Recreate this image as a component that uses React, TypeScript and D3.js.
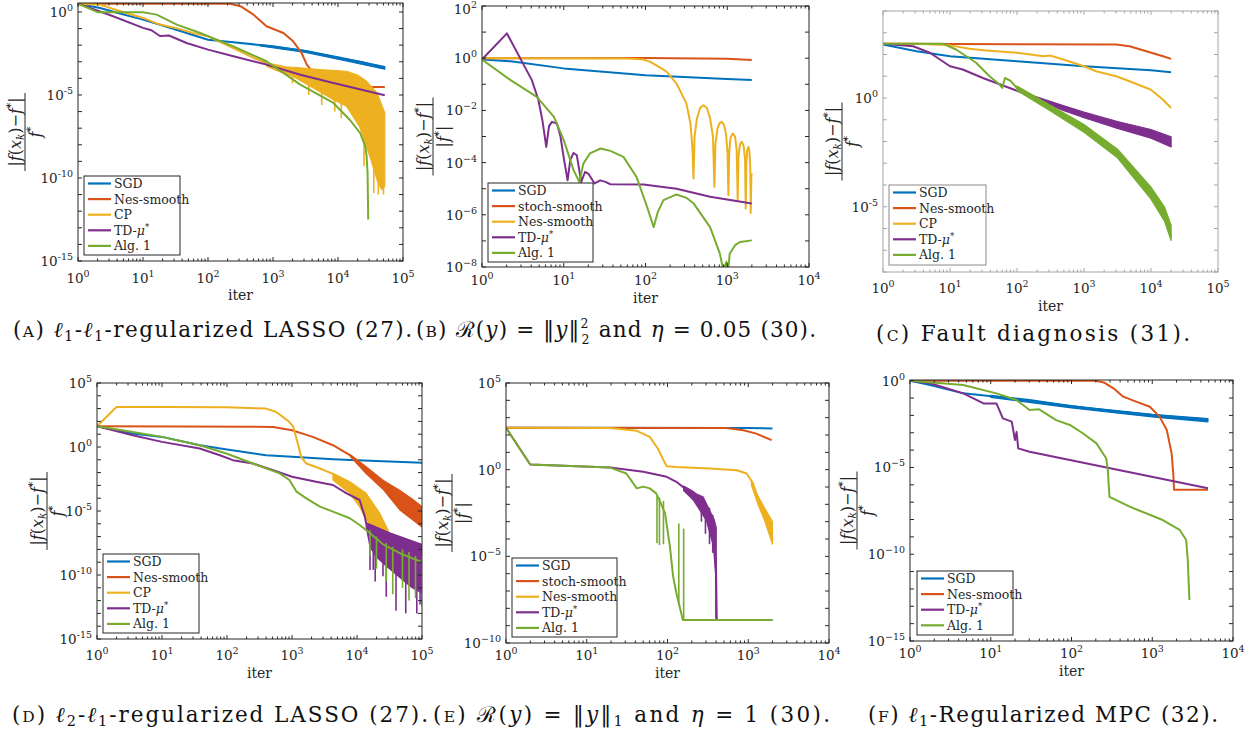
import React from 'react';
import * as d3 from 'd3';

// All data points are [log10(iter), log10(relative error)].
type P = [number, number];
type S = [number, number, number]; // spike: [log10 iter, log10 top, log10 bottom]

const BLUE = '#0072BD', RED = '#D95319', YELLOW = '#EDB120', PURPLE = '#7E2F8E', GREEN = '#77AC30';
const SERIF = "DejaVu Serif, Liberation Serif, serif";

// ---------------- Panel A ----------------
const aSGD: P[] = [[0,0.5],[0.34,0.24],[0.6,-0.05],[1,-0.46],[1.5,-1.06],[2,-1.67],[2.39,-1.83],[3,-2.07],[3.52,-2.37],[4,-2.77],[4.4,-3.05],[4.72,-3.37]];
const aSGDUp: P[] = [[2.8,-1.97],[3.5,-2.32],[4,-2.71],[4.72,-3.29]];
const aSGDLo: P[] = [[2.8,-2.05],[3.5,-2.43],[4,-2.85],[4.72,-3.45]];
const aNes: P[] = [[0,0.5],[2.34,0.5],[2.5,0.35],[2.7,-0.16],[2.9,-0.86],[3.16,-1.27],[3.31,-1.77],[3.44,-2.47],[3.52,-3.17],[3.6,-3.57],[3.7,-4.1],[3.8,-4.45],[3.9,-4.52],[4.72,-4.52]];
const aCP: P[] = [[0,0.5],[0.34,0.44],[0.6,0.1],[1,-0.36],[1.26,-0.76],[1.5,-0.96],[1.76,-1.26],[2,-1.47],[2.39,-2.17],[2.7,-2.77],[2.9,-3.07]];
const aCPUp: P[] = [[2.9,-3.07],[3.2,-3.3],[3.42,-3.37],[3.72,-3.47],[4.13,-3.57],[4.3,-3.8],[4.44,-4.18],[4.6,-4.88],[4.72,-6.08]];
const aCPLo: P[] = [[2.9,-3.27],[3.1,-3.6],[3.31,-3.88],[3.62,-4.58],[3.93,-5.28],[4.13,-5.68],[4.33,-6.89],[4.49,-8.69],[4.6,-10.1],[4.67,-10.7],[4.72,-10.5]];
const aCPSpikes: S[] = [[3.3,-3.6,-4.3],[3.55,-4.2,-5.0],[3.75,-4.6,-5.6],[3.95,-5.1,-6.0],[4.05,-5.3,-6.4],[4.4,-7.5,-9.3],[4.55,-9,-10.9],[4.62,-9.5,-11.0],[4.7,-10,-11.0]];
const aTD: P[] = [[0,0.5],[0.5,-0.2],[1,-0.96],[1.13,-1.1],[1.26,-1.45],[1.4,-1.42],[1.67,-1.87],[2,-2.27],[2.39,-2.67],[2.9,-3.17],[3.42,-3.78],[3.93,-4.28],[4.72,-5.02]];
const aAlg: P[] = [[0,0.5],[0.31,-0.02],[1,-0.02],[1.21,-0.16],[1.52,-0.76],[1.88,-1.27],[2.39,-2.07],[2.9,-2.97],[3.42,-4.38],[3.93,-5.48],[4.18,-6.49],[4.34,-7.29],[4.42,-8.09],[4.44,-8.69],[4.455,-9.7],[4.465,-12.5]];

// ---------------- Panel B ----------------
const bSGD: P[] = [[0,-0.05],[0.35,-0.12],[1,-0.39],[2,-0.65],[3,-0.8],[3.3,-0.84]];
const bStoch: P[] = [[0,0],[2,0.01],[3,-0.02],[3.3,-0.07]];
const bNes: P[] = [[0,0],[1.8,-0.01],[1.97,-0.05],[2.06,-0.14],[2.2,-0.4],[2.26,-0.52],[2.38,-0.97],[2.5,-1.73],[2.55,-2.5],[2.575,-3.5],[2.587,-4.61],[2.6,-3.0],[2.63,-2.3],[2.67,-1.9],[2.709,-1.8],[2.75,-1.9],[2.79,-2.3],[2.825,-3.0],[2.843,-4.93],[2.855,-3.3],[2.88,-2.7],[2.905,-2.5],[2.933,-2.44],[2.96,-2.55],[2.985,-2.9],[3.003,-3.6],[3.014,-5.25],[3.024,-3.6],[3.04,-3.05],[3.067,-2.88],[3.095,-3.0],[3.115,-3.5],[3.128,-5.44],[3.137,-3.8],[3.155,-3.3],[3.177,-3.2],[3.2,-3.35],[3.218,-3.9],[3.226,-5.76],[3.234,-4.0],[3.245,-3.5],[3.259,-3.4],[3.272,-3.6],[3.282,-4.2],[3.287,-5.93],[3.295,-4.5],[3.3,-4.4]];
const bTD: P[] = [[0,-0.05],[0.305,0.95],[0.61,-0.84],[0.69,-1.6],[0.74,-2.4],[0.786,-3.4],[0.82,-2.6],[0.855,-2.44],[0.917,-2.5],[0.96,-3.0],[0.998,-3.78],[1.047,-4.68],[1.08,-3.9],[1.12,-3.63],[1.16,-3.72],[1.214,-4.74],[1.26,-4.36],[1.3,-4.42],[1.377,-4.8],[1.446,-4.68],[1.51,-4.74],[1.57,-4.83],[1.976,-4.84],[2.38,-5.0],[2.79,-5.31],[3.3,-5.57]];
const bAlg: P[] = [[0,-0.05],[0.35,-0.84],[0.67,-1.48],[0.88,-2.25],[1.0,-3.14],[1.12,-4.29],[1.19,-4.74],[1.24,-4.04],[1.32,-3.65],[1.45,-3.46],[1.57,-3.55],[1.73,-3.78],[1.89,-4.55],[2.02,-5.7],[2.1,-6.47],[2.15,-5.9],[2.22,-5.44],[2.38,-5.22],[2.5,-5.35],[2.59,-5.57],[2.79,-6.47],[2.91,-7.49],[2.95,-8.1],[2.99,-7.8],[3.01,-8.2],[3.03,-7.49],[3.1,-7.15],[3.16,-7.04],[3.3,-6.98]];

// ---------------- Panel C ----------------
const cSGD: P[] = [[0,2.46],[0.5,2.15],[1,1.92],[2,1.69],[3,1.46],[4,1.28],[4.3,1.18]];
const cNes: P[] = [[0,2.49],[3.48,2.46],[3.68,2.38],[3.93,2.15],[4.18,1.92],[4.3,1.8]];
const cCP: P[] = [[0,2.49],[0.5,2.49],[1,2.42],[1.29,2.26],[1.5,2.2],[1.69,2.15],[2,2.08],[2.2,2.0],[2.39,1.92],[2.5,1.95],[2.69,1.77],[3,1.46],[3.18,1.23],[3.48,1.0],[3.68,0.77],[4,0.38],[4.18,-0.08],[4.3,-0.46]];
const cTD: P[] = [[0,2.49],[0.45,2.38],[0.7,2.08],[1,1.46],[1.19,1.31],[1.49,0.92],[1.69,0.69],[1.89,0.46],[2.09,0.23],[2.39,-0.15],[2.69,-0.46],[3,-0.77],[3.48,-1.23],[4,-1.62],[4.3,-2.0]];
const cTDUp: P[] = [[2.2,0.15],[2.7,-0.36],[3.0,-0.65],[3.5,-1.08],[4.0,-1.45],[4.3,-1.78]];
const cTDLo: P[] = [[2.2,0.05],[2.7,-0.58],[3.0,-0.9],[3.5,-1.4],[4.0,-1.85],[4.3,-2.25]];
const cAlg: P[] = [[0,2.49],[0.9,2.49],[1.09,2.23],[1.39,1.62],[1.59,1.0],[1.74,0.62],[1.78,0.46],[1.82,0.92],[1.9,0.8],[2,0.46],[2.19,0.08],[2.49,-0.46],[3,-1.38],[3.48,-2.54],[4,-4.38],[4.18,-5.31],[4.3,-6.38]];
const cAlgUp: P[] = [[2.0,0.55],[2.5,-0.33],[3,-1.22],[3.5,-2.35],[4,-4.1],[4.2,-5.0],[4.3,-5.85]];
const cAlgLo: P[] = [[2.0,0.35],[2.5,-0.6],[3,-1.58],[3.5,-2.75],[4,-4.65],[4.2,-5.65],[4.3,-6.55]];

// ---------------- Panel D ----------------
const dSGD: P[] = [[0,1.62],[0.55,1.05],[1,0.79],[1.58,0.14],[2,-0.19],[2.6,-0.64],[3,-0.77],[3.63,-0.95],[4,-1.03],[5,-1.23]];
const dNes: P[] = [[0,1.62],[2.71,1.57],[3,1.31],[3.32,0.79],[3.63,0.14],[3.89,-0.64],[4.14,-1.8],[4.4,-2.95],[4.66,-4.1],[4.86,-4.9],[5,-5.6]];
const dNesUp: P[] = [[3.9,-0.6],[4.14,-1.55],[4.4,-2.6],[4.66,-3.4],[4.86,-4.1],[5,-4.66]];
const dNesLo: P[] = [[3.9,-0.75],[4.14,-2.07],[4.4,-3.3],[4.66,-4.92],[4.86,-5.7],[5,-6.25]];
const dCP: P[] = [[0,1.62],[0.3,3.13],[1,3.13],[2,3.1],[2.6,3.0],[2.75,2.75],[2.86,2.35],[2.95,2.0],[3.02,1.57],[3.09,0.27],[3.14,-0.77],[3.22,-1.29],[3.43,-1.68],[3.63,-2.1]];
const dCPUp: P[] = [[3.63,-2.06],[3.89,-2.71],[4.14,-3.62],[4.35,-5.18],[4.5,-6.74]];
const dCPLo: P[] = [[3.63,-2.58],[3.89,-3.62],[4.04,-4.66],[4.14,-5.7],[4.35,-6.74],[4.5,-6.74]];
const dCPSpikes: S[] = [[4.3,-6.5,-8.2],[4.35,-6.7,-8.8]];
const dTD: P[] = [[0,1.62],[0.55,0.92],[1,0.4],[1.58,-0.12],[1.89,-0.64],[2.09,-1.03],[2.4,-1.29],[2.71,-1.81],[3,-2.32],[3.37,-2.71],[3.63,-2.97],[3.84,-3.62],[4.04,-4.14],[4.12,-5.44],[4.14,-5.96],[4.5,-6.74],[5,-7.65]];
const dTDLo: P[] = [[4.14,-6.2],[4.2,-7.8],[4.3,-8.6],[4.45,-9.3],[4.66,-10.2],[4.85,-11.0],[5,-11.4]];
const dTDUp: P[] = [[4.14,-5.96],[4.5,-6.74],[5,-7.65]];
const dTDSpikes: S[] = [[4.2,-6.1,-9.6],[4.25,-6.3,-9.6],[4.28,-6.3,-10.5],[4.4,-6.5,-10.1],[4.45,-6.6,-11.7],[4.6,-7.0,-12.8],[4.75,-7.2,-13.0],[4.92,-7.5,-13.0],[4.97,-7.6,-12.3]];
const dAlg: P[] = [[0,1.62],[0.55,1.18],[1,0.79],[1.58,0.14],[1.99,-0.51],[2.4,-1.29],[2.81,-2.06],[2.96,-2.58],[3.07,-3.49],[3.22,-4.01],[3.43,-4.66],[3.63,-5.05],[3.89,-5.57],[4.04,-6.09],[4.14,-6.48],[4.4,-7.6],[4.66,-8.3],[5,-9.0]];
const dAlgSpikes: S[] = [[4.2,-6.5,-8.5],[4.3,-7,-9.5],[4.45,-7.5,-10.5],[4.55,-7.8,-11.5],[4.7,-8,-11],[4.8,-8.2,-12],[4.9,-8.5,-11.8],[5,-8.5,-12.5]];

// ---------------- Panel E ----------------
const eSGD: P[] = [[0,2.42],[3,2.41],[3.3,2.37]];
const eStoch: P[] = [[0,2.42],[2.73,2.4],[2.94,2.27],[3.1,2.08],[3.29,1.7]];
const eNes: P[] = [[0,2.42],[1.29,2.4],[1.62,2.24],[1.78,1.89],[1.88,1.22],[1.95,0.55],[1.99,0.2],[2.11,0.16],[2.52,0.07],[2.86,-0.03],[2.98,-0.22],[3.06,-0.8],[3.12,-1.76],[3.19,-2.52],[3.27,-3.1],[3.3,-4.06]];
const eNesUp: P[] = [[3.04,-0.6],[3.12,-1.5],[3.2,-2.2],[3.3,-3.0]];
const eNesLo: P[] = [[3.04,-0.9],[3.12,-2.0],[3.2,-2.9],[3.3,-4.3]];
const eTD: P[] = [[0,2.42],[0.3,0.3],[1.29,0.12],[1.7,-0.12],[1.99,-0.41],[2.11,-0.7],[2.24,-1.18],[2.3,-1.5],[2.44,-2.1],[2.52,-2.6],[2.57,-3.5],[2.6,-5.5],[2.61,-8.67],[3.3,-8.67]];
const eTDUp: P[] = [[2.2,-0.95],[2.3,-1.2],[2.36,-1.4],[2.44,-1.56],[2.52,-2.33],[2.58,-2.91],[2.6,-3.29]];
const eTDLo: P[] = [[2.2,-1.2],[2.32,-1.76],[2.4,-2.33],[2.48,-2.91],[2.57,-4.44],[2.6,-6.36]];
const eTDSpikes: S[] = [[2.42,-1.7,-3.0],[2.47,-2.0,-3.7],[2.52,-2.2,-4.3],[2.56,-2.6,-4.8],[2.6,-3.3,-8.6]];
const eAlg: P[] = [[0,2.42],[0.3,0.3],[1.29,0.12],[1.49,-0.22],[1.62,-1.08],[1.7,-0.98],[1.78,-1.08],[1.86,-1.37],[1.9,-1.76],[1.97,-2.52],[2.03,-4.44],[2.07,-6.17],[2.11,-7.13],[2.15,-7.9],[2.19,-8.67],[3.3,-8.67]];
const eAlgSpikes: S[] = [[1.87,-1.5,-4.25],[1.9,-1.6,-4.35],[1.95,-1.8,-4.3],[2.14,-3.1,-7.8],[2.2,-3.4,-8.67]];

// ---------------- Panel F ----------------
const fSGD: P[] = [[0,0],[0.25,-0.25],[0.66,-0.73],[1.07,-0.92],[1.48,-1.11],[1.9,-1.4],[2.31,-1.65],[2.72,-1.84],[3.13,-2.04],[3.69,-2.27]];
const fSGDUp: P[] = [[1,-0.85],[2,-1.45],[3,-1.94],[3.69,-2.18]];
const fSGDLo: P[] = [[1,-0.96],[2,-1.57],[3,-2.09],[3.69,-2.37]];
const fNes: P[] = [[0,0],[2.3,0],[2.4,-0.1],[2.52,-0.44],[2.64,-0.92],[2.8,-1.21],[2.97,-1.5],[3.09,-2.07],[3.18,-2.84],[3.24,-4.19],[3.26,-5.34],[3.27,-6.28],[3.69,-6.28]];
const fTD: P[] = [[0,0],[0.25,-0.15],[0.66,-0.73],[0.91,-1.31],[1.07,-1.31],[1.15,-2.17],[1.26,-2.36],[1.3,-3.42],[1.32,-2.95],[1.34,-3.9],[1.48,-4.09],[3.69,-6.2]];
const fAlg: P[] = [[0,0],[0.66,-0.25],[1.07,-0.73],[1.32,-1.11],[1.48,-1.69],[1.6,-1.65],[1.81,-2.27],[1.98,-2.55],[2.14,-3.03],[2.31,-3.61],[2.43,-4.48],[2.45,-5.15],[2.47,-6.69],[2.72,-7.26],[3.13,-8.03],[3.34,-8.6],[3.42,-9.18],[3.44,-10.33],[3.46,-12.64]];

interface Series { name: string; color: string; line: P[]; up?: P[]; lo?: P[]; spikes?: S[]; }
interface PanelCfg {
  id: string; left: number; right: number; top: number; bottom: number;
  xExp: [number, number]; yExp: [number, number]; xLabels: number[]; yLabels: number[];
  minus: string; axisCol: string; series: Series[];
  legend: { x: number; y: number; w: number; h: number };
  absDen: boolean; barX: number; xLabDy: number; iterDy: number;
}

const panels: PanelCfg[] = [
  { id: 'A', left: 78, right: 403, top: 3, bottom: 261, xExp: [0, 5], yExp: [-15, 0.54], xLabels: [0,1,2,3,4,5], yLabels: [0,-5,-10,-15], minus: '-', axisCol: '#262626',
    series: [
      { name: 'SGD', color: BLUE, line: aSGD, up: aSGDUp, lo: aSGDLo },
      { name: 'Nes-smooth', color: RED, line: aNes },
      { name: 'CP', color: YELLOW, line: aCP, up: aCPUp, lo: aCPLo, spikes: aCPSpikes },
      { name: 'TD', color: PURPLE, line: aTD },
      { name: 'Alg. 1', color: GREEN, line: aAlg },
    ], legend: { x: 84, y: 176, w: 96, h: 79 }, absDen: false, barX: 25, xLabDy: 22, iterDy: 39 },
  { id: 'B', left: 482, right: 809, top: 6, bottom: 267, xExp: [0, 4], yExp: [-8, 2], xLabels: [0,1,2,3,4], yLabels: [2,0,-2,-4,-6,-8], minus: '\u2212', axisCol: '#262626',
    series: [
      { name: 'SGD', color: BLUE, line: bSGD },
      { name: 'stoch-smooth', color: RED, line: bStoch },
      { name: 'Nes-smooth', color: YELLOW, line: bNes },
      { name: 'TD', color: PURPLE, line: bTD },
      { name: 'Alg. 1', color: GREEN, line: bAlg },
    ], legend: { x: 488, y: 183, w: 105, h: 79 }, absDen: true, barX: 433, xLabDy: 18, iterDy: 36 },
  { id: 'C', left: 883, right: 1218, top: 11, bottom: 272, xExp: [0, 5], yExp: [-8, 4], xLabels: [0,1,2,3,4,5], yLabels: [0,-5], minus: '-', axisCol: '#a6a6a6',
    series: [
      { name: 'SGD', color: BLUE, line: cSGD },
      { name: 'Nes-smooth', color: RED, line: cNes },
      { name: 'CP', color: YELLOW, line: cCP },
      { name: 'TD', color: PURPLE, line: cTD, up: cTDUp, lo: cTDLo },
      { name: 'Alg. 1', color: GREEN, line: cAlg, up: cAlgUp, lo: cAlgLo },
    ], legend: { x: 889, y: 185, w: 97, h: 80 }, absDen: false, barX: 842, xLabDy: 21, iterDy: 39 },
  { id: 'D', left: 97, right: 422, top: 383, bottom: 639, xExp: [0, 5], yExp: [-15, 5], xLabels: [0,1,2,3,4,5], yLabels: [5,0,-5,-10,-15], minus: '-', axisCol: '#262626',
    series: [
      { name: 'SGD', color: BLUE, line: dSGD },
      { name: 'Nes-smooth', color: RED, line: dNes, up: dNesUp, lo: dNesLo },
      { name: 'CP', color: YELLOW, line: dCP, up: dCPUp, lo: dCPLo, spikes: dCPSpikes },
      { name: 'TD', color: PURPLE, line: dTD, up: dTDUp, lo: dTDLo, spikes: dTDSpikes },
      { name: 'Alg. 1', color: GREEN, line: dAlg, spikes: dAlgSpikes },
    ], legend: { x: 103, y: 554, w: 96, h: 79 }, absDen: false, barX: 47, xLabDy: 21, iterDy: 39 },
  { id: 'E', left: 506, right: 829, top: 383, bottom: 643, xExp: [0, 4], yExp: [-10, 5], xLabels: [0,1,2,3,4], yLabels: [5,0,-5,-10], minus: '\u2212', axisCol: '#262626',
    series: [
      { name: 'SGD', color: BLUE, line: eSGD },
      { name: 'stoch-smooth', color: RED, line: eStoch },
      { name: 'Nes-smooth', color: YELLOW, line: eNes, up: eNesUp, lo: eNesLo },
      { name: 'TD', color: PURPLE, line: eTD, up: eTDUp, lo: eTDLo, spikes: eTDSpikes },
      { name: 'Alg. 1', color: GREEN, line: eAlg, spikes: eAlgSpikes },
    ], legend: { x: 512, y: 558, w: 105, h: 79 }, absDen: true, barX: 452, xLabDy: 17, iterDy: 35 },
  { id: 'F', left: 910, right: 1233, top: 380, bottom: 641, xExp: [0, 4], yExp: [-15, 0.04], xLabels: [0,1,2,3,4], yLabels: [0,-5,-10,-15], minus: '\u2212', axisCol: '#262626',
    series: [
      { name: 'SGD', color: BLUE, line: fSGD, up: fSGDUp, lo: fSGDLo },
      { name: 'Nes-smooth', color: RED, line: fNes },
      { name: 'TD', color: PURPLE, line: fTD },
      { name: 'Alg. 1', color: GREEN, line: fAlg },
    ], legend: { x: 917, y: 571, w: 96, h: 64 }, absDen: false, barX: 857, xLabDy: 17, iterDy: 35 },
];

function Panel({ c }: { c: PanelCfg }) {
  const x = d3.scaleLog().domain([10 ** c.xExp[0], 10 ** c.xExp[1]]).range([c.left, c.right]);
  const y = d3.scaleLog().domain([10 ** c.yExp[0], 10 ** c.yExp[1]]).range([c.bottom, c.top]);
  const px = (p: P) => x(10 ** p[0]);
  const py = (p: P) => y(10 ** p[1]);
  const line = d3.line<P>().x(px).y(py);
  const clip = `clip-${c.id}`;
  const col = c.axisCol;
  const xMajor: number[] = [];
  const xMinor: number[] = [];
  for (let d = c.xExp[0]; d <= c.xExp[1]; d++) {
    xMajor.push(10 ** d);
    if (d < c.xExp[1]) for (let k = 2; k <= 9; k++) xMinor.push(k * 10 ** d);
  }
  const yMajor: number[] = [];
  for (let e = Math.ceil(c.yExp[0]); e <= Math.floor(c.yExp[1]); e++) yMajor.push(10 ** e);
  const cx = (c.left + c.right) / 2;
  const cy = (c.top + c.bottom) / 2;
  const expStr = (e: number) => (e < 0 ? c.minus + Math.abs(e) : String(e));
  const L = c.legend;
  return (
    <g fontFamily={SERIF}>
      <defs>
        <clipPath id={clip}><rect x={c.left} y={c.top} width={c.right - c.left} height={c.bottom - c.top} /></clipPath>
      </defs>
      <g clipPath={`url(#${clip})`}>
        {c.series.map((s, i) => (
          <g key={i}>
            {s.up && s.lo && (
              <path d={(line(s.up.concat(s.lo.slice().reverse())) || '') + 'Z'} fill={s.color} stroke={s.color} strokeWidth={1.2} strokeLinejoin="round" />
            )}
            {s.spikes && s.spikes.map((sp, j) => (
              <line key={j} x1={x(10 ** sp[0])} x2={x(10 ** sp[0])} y1={y(10 ** sp[1])} y2={y(10 ** sp[2])} stroke={s.color} strokeWidth={1.6} />
            ))}
            <path d={line(s.line) || ''} fill="none" stroke={s.color} strokeWidth={2} strokeLinejoin="round" />
          </g>
        ))}
      </g>
      <rect x={c.left} y={c.top} width={c.right - c.left} height={c.bottom - c.top} fill="none" stroke={col} strokeWidth={1} />
      {xMajor.map((v, i) => (
        <g key={'xM' + i}>
          <line x1={x(v)} x2={x(v)} y1={c.bottom} y2={c.bottom - 4} stroke={col} />
          <line x1={x(v)} x2={x(v)} y1={c.top} y2={c.top + 4} stroke={col} />
        </g>
      ))}
      {xMinor.map((v, i) => (
        <g key={'xm' + i}>
          <line x1={x(v)} x2={x(v)} y1={c.bottom} y2={c.bottom - 2.5} stroke={col} />
          <line x1={x(v)} x2={x(v)} y1={c.top} y2={c.top + 2.5} stroke={col} />
        </g>
      ))}
      {yMajor.map((v, i) => (
        <g key={'yM' + i}>
          <line x1={c.left} x2={c.left + 4} y1={y(v)} y2={y(v)} stroke={col} />
          <line x1={c.right} x2={c.right - 4} y1={y(v)} y2={y(v)} stroke={col} />
        </g>
      ))}
      {c.xLabels.map((e, i) => (
        <text key={'xl' + i} x={x(10 ** e)} y={c.bottom + c.xLabDy} textAnchor="middle" fontSize={13.5} fill="#262626">
          10<tspan fontSize={9.5} dy={-6}>{expStr(e)}</tspan>
        </text>
      ))}
      {c.yLabels.map((e, i) => (
        <text key={'yl' + i} x={c.left - 5} y={Math.max(y(10 ** e) + 5, 14)} textAnchor="end" fontSize={13.5} fill="#262626">
          10<tspan fontSize={9.5} dy={-6}>{expStr(e)}</tspan>
        </text>
      ))}
      <text x={cx} y={c.bottom + c.iterDy} textAnchor="middle" fontSize={14} fill="#262626">iter</text>
      <g transform={`translate(${c.barX},${cy}) rotate(-90)`} fill="#262626">
        <text x={0} y={-4} textAnchor="middle" fontSize={16}>
          |<tspan fontStyle="italic">f</tspan>(<tspan fontStyle="italic">x</tspan><tspan fontSize={10.5} fontStyle="italic" dy={3}>k</tspan><tspan dy={-3}>)−</tspan><tspan fontStyle="italic">f</tspan><tspan fontSize={10.5} dy={-7}>*</tspan><tspan dy={7}>|</tspan>
        </text>
        <line x1={-39} x2={39} y1={0} y2={0} stroke="#262626" strokeWidth={1} />
        <text x={0} y={16} textAnchor="middle" fontSize={16}>
          {c.absDen ? '|' : ''}<tspan fontStyle="italic">f</tspan><tspan fontSize={10.5} dy={-7}>*</tspan><tspan dy={7}>{c.absDen ? '|' : ''}</tspan>
        </text>
      </g>
      <rect x={L.x} y={L.y} width={L.w} height={L.h} fill="#fff" stroke={c.id === 'C' ? '#8c8c8c' : '#262626'} strokeWidth={1} />
      {c.series.map((s, i) => {
        const ly = L.y + 7.5 + i * 15.6;
        return (
          <g key={'lg' + i}>
            <line x1={L.x + 4} x2={L.x + 27} y1={ly} y2={ly} stroke={s.color} strokeWidth={2.2} />
            <text x={L.x + 30} y={ly + 4.5} fontSize={12.5} fill="#262626">
              {s.name === 'TD' ? (
                <>TD-<tspan fontStyle="italic">μ</tspan><tspan fontSize={8.5} dy={-5}>*</tspan></>
              ) : s.name}
            </text>
          </g>
        );
      })}
    </g>
  );
}

function Captions() {
  const common = { fontFamily: SERIF, fontSize: 21.5, fill: '#111' } as const;
  return (
    <g>
      <text x={13} y={337} textLength={399} lengthAdjust="spacing" {...common}>
        (<tspan fontSize={15.5}>A</tspan>){' '}<tspan fontStyle="italic">ℓ</tspan><tspan fontSize={14.5} dy={4}>1</tspan><tspan dy={-4}>-</tspan><tspan fontStyle="italic">ℓ</tspan><tspan fontSize={14.5} dy={4}>1</tspan><tspan dy={-4}>-regularized LASSO (27).</tspan>
      </text>
      <text x={416} y={337} textLength={400} lengthAdjust="spacing" {...common}>
        (<tspan fontSize={15.5}>B</tspan>){' '}ℛ(<tspan fontStyle="italic">y</tspan>) = ‖<tspan fontStyle="italic">y</tspan>‖<tspan fontSize={12.5} dy={-9}>2</tspan><tspan fontSize={12.5} dx={-8} dy={16}>2</tspan><tspan dy={-7}> and </tspan><tspan fontStyle="italic">η</tspan><tspan> = 0.05 (30).</tspan>
      </text>
      <text x={876} y={341} textLength={314} lengthAdjust="spacing" {...common}>
        (<tspan fontSize={15.5}>C</tspan>) Fault diagnosis (31).
      </text>
      <text x={12} y={722} textLength={416} lengthAdjust="spacing" {...common}>
        (<tspan fontSize={15.5}>D</tspan>){' '}<tspan fontStyle="italic">ℓ</tspan><tspan fontSize={14.5} dy={4}>2</tspan><tspan dy={-4}>-</tspan><tspan fontStyle="italic">ℓ</tspan><tspan fontSize={14.5} dy={4}>1</tspan><tspan dy={-4}>-regularized LASSO (27).</tspan>
      </text>
      <text x={433} y={722} textLength={397} lengthAdjust="spacing" {...common}>
        (<tspan fontSize={15.5}>E</tspan>){' '}ℛ(<tspan fontStyle="italic">y</tspan>) = ‖<tspan fontStyle="italic">y</tspan>‖<tspan fontSize={14.5} dy={4}>1</tspan><tspan dy={-4}> and </tspan><tspan fontStyle="italic">η</tspan><tspan> = 1 (30).</tspan>
      </text>
      <text x={868} y={722} textLength={350} lengthAdjust="spacing" {...common}>
        (<tspan fontSize={15.5}>F</tspan>){' '}<tspan fontStyle="italic">ℓ</tspan><tspan fontSize={14.5} dy={4}>1</tspan><tspan dy={-4}>-Regularized MPC (32).</tspan>
      </text>
    </g>
  );
}

export default function App() {
  return (
    <svg width={1253} height={734} viewBox="0 0 1253 734" style={{ position: 'absolute', left: 0, top: 0, background: '#fff' }}>
      <rect x={0} y={0} width={1253} height={734} fill="#fff" />
      {panels.map((c) => <Panel key={c.id} c={c} />)}
      <Captions />
    </svg>
  );
}
